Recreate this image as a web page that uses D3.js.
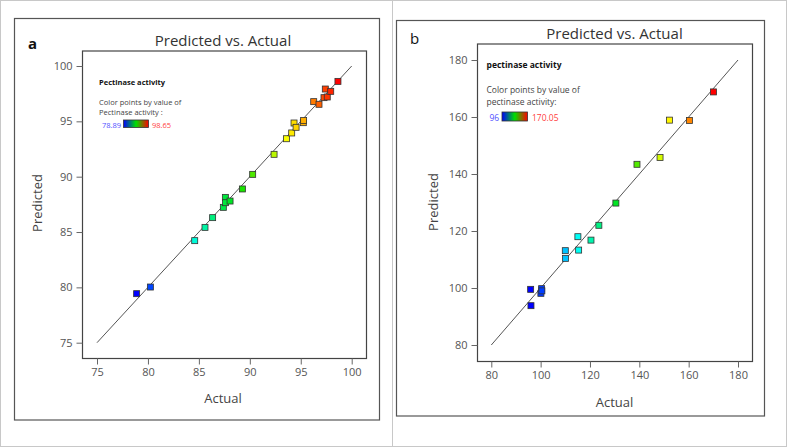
<!DOCTYPE html>
<html><head><meta charset="utf-8">
<script src="https://cdn.jsdelivr.net/npm/d3@7"></script>
<style>body{margin:0;background:#fff}svg{display:block}text{font-family:"Open Sans","Noto Sans",sans-serif}</style>
</head><body><svg id="c" width="787" height="447"></svg>
<script>
// Panel a data
const actualA = [78.89, 80.24, 84.59, 85.60, 86.35, 87.40, 87.60, 87.62, 88.06, 89.27, 90.28, 92.38, 93.59, 94.11, 94.34, 94.54, 95.25, 95.28, 96.27, 96.79, 97.28, 97.41, 97.60, 97.94, 98.65];
const predictedA = [79.43, 80.03, 84.22, 85.42, 86.30, 87.23, 88.13, 87.65, 87.80, 88.89, 90.21, 92.02, 93.43, 93.95, 94.85, 94.46, 94.88, 95.08, 96.78, 96.54, 97.14, 97.92, 97.20, 97.71, 98.61];
const ticksA = [75, 80, 85, 90, 95, 100];
// Panel b data
const actualB = [95.95, 96.08, 100.4, 100.1, 100.5, 110.0, 110.1, 115.1, 115.4, 120.4, 123.6, 130.5, 139.05, 148.4, 152.2, 160.3, 170.05];
const predictedB = [99.53, 93.80, 99.77, 98.13, 99.0, 113.1, 110.4, 118.0, 113.3, 116.8, 122.0, 129.8, 143.4, 145.8, 158.9, 158.8, 168.8];
const ticksB = [80, 100, 120, 140, 160, 180];

const svg = d3.select("#c");
// outer light border and separator
svg.append("rect").attr("x",0.5).attr("y",0.5).attr("width",786).attr("height",446).attr("fill","none").attr("stroke","#c8c8c8");
svg.append("line").attr("x1",392.5).attr("x2",392.5).attr("y1",0).attr("y2",447).attr("stroke","#c8c8c8");

const jet = d3.scaleLinear().domain([0,0.25,0.5,0.75,1]).range(["#0000ff","#00ffff","#00e000","#ffff00","#ff0000"]).clamp(true);

function panel(o){
  const g = svg.append("g");
  g.append("rect").attr("x",o.frame[0]).attr("y",o.frame[1]).attr("width",o.frame[2]).attr("height",o.frame[3]).attr("fill","none").attr("stroke","#555").attr("stroke-width",1.2);
  g.append("rect").attr("x",o.box[0]).attr("y",o.box[1]).attr("width",o.box[2]-o.box[0]).attr("height",o.box[3]-o.box[1]).attr("fill","#fff").attr("stroke","#444").attr("stroke-width",1.2);
  const x = d3.scaleLinear().domain([o.ticks[0],o.ticks[o.ticks.length-1]]).range(o.xr);
  const y = d3.scaleLinear().domain([o.ticks[0],o.ticks[o.ticks.length-1]]).range(o.yr);
  const xa = g.append("g").attr("transform",`translate(0,${o.box[3]})`).call(d3.axisBottom(x).tickValues(o.ticks).tickSize(6).tickPadding(4));
  const ya = g.append("g").attr("transform",`translate(${o.box[0]},0)`).call(d3.axisLeft(y).tickValues(o.ticks).tickSize(6).tickPadding(4));
  [xa,ya].forEach(a=>{a.select(".domain").remove();a.selectAll("line").attr("stroke","#666");a.selectAll("text").attr("fill","#555").attr("font-size",11);});
  // 1:1 line
  g.append("line").attr("x1",x(o.ticks[0])).attr("y1",y(o.ticks[0])).attr("x2",x(o.ticks[o.ticks.length-1])).attr("y2",y(o.ticks[o.ticks.length-1])).attr("stroke","#555").attr("stroke-width",1);
  const c = d3.scaleLinear().domain([o.min,o.max]).range([0,1]);
  const s = 6;
  g.selectAll("rect.pt").data(o.actual.map((a,i)=>[a,o.pred[i]])).enter().append("rect").attr("class","pt")
    .attr("x",d=>x(d[0])-s/2).attr("y",d=>y(d[1])-s/2).attr("width",s).attr("height",s)
    .attr("fill",d=>jet(c(d[0]))).attr("stroke","#333").attr("stroke-width",0.8);
  // titles
  g.append("text").attr("x",o.title[0]).attr("y",o.title[1]).attr("text-anchor","middle").attr("font-size",15).attr("fill","#333").text("Predicted vs. Actual");
  g.append("text").attr("x",o.letter[0]).attr("y",o.letter[1]).attr("font-size",15).attr("font-weight",o.letterBold?"bold":"normal").attr("fill","#111").text(o.letterText);
  g.append("text").attr("transform",`translate(${o.ylab[0]},${o.ylab[1]}) rotate(-90)`).attr("text-anchor","middle").attr("font-size",13).attr("fill","#444").text("Predicted");
  g.append("text").attr("x",o.xlab[0]).attr("y",o.xlab[1]).attr("text-anchor","middle").attr("font-size",13).attr("fill","#444").text("Actual");
  // legend
  const L = o.leg;
  g.append("text").attr("x",L.x).attr("y",L.y1).attr("font-size",L.bfs).attr("font-weight","bold").attr("fill","#111").text(L.t1);
  g.append("text").attr("x",L.x).attr("y",L.y2).attr("font-size",L.fs).attr("fill","#444").text("Color points by value of");
  g.append("text").attr("x",L.x).attr("y",L.y3).attr("font-size",L.fs).attr("fill","#444").text(L.t3);
  g.append("text").attr("x",L.lx).attr("y",L.y4).attr("font-size",L.fs).attr("fill","#5050ff").text(L.lo);
  const gid = "grad"+o.letterText;
  const gr = svg.append("defs").append("linearGradient").attr("id",gid);
  [["0%","#0000ff"],["50%","#00e000"],["100%","#ff0000"]].forEach(st=>gr.append("stop").attr("offset",st[0]).attr("stop-color",st[1]));
  g.append("rect").attr("x",L.bx).attr("y",L.by).attr("width",L.bw).attr("height",L.bh).attr("fill",`url(#${gid})`).attr("stroke","#333").attr("stroke-width",0.8);
  g.append("text").attr("x",L.hx).attr("y",L.y4).attr("font-size",L.fs).attr("fill","#ff4040").text(L.hi);
}

panel({frame:[14.5,18.5,365,401.5], box:[82.5,51,366.5,358.5], ticks:ticksA, xr:[97,351.7], yr:[342.7,66],
  actual:actualA, pred:predictedA, min:78.89, max:98.65,
  title:[223,46], letter:[28,49], letterText:"a", letterBold:true, ylab:[42,203], xlab:[223,403],
  leg:{x:99,y1:85,y2:105,y3:115,y4:128,t1:"Pectinase activity",t3:"Pectinase activity :",lo:"78.89",hi:"98.65",lx:102,hx:152,bx:123.5,by:120,bw:25,bh:7.5,fs:7.5,bfs:7.5}});

panel({frame:[396.5,20.5,368,395.5], box:[477.5,44,752.5,361.5], ticks:ticksB, xr:[491.3,738], yr:[345,60],
  actual:actualB, pred:predictedB, min:96, max:170.05,
  title:[614.5,39], letter:[410,44], letterText:"b", letterBold:false, ylab:[438,202], xlab:[614.5,407],
  leg:{x:486.5,y1:68,y2:93,y3:105,y4:121,t1:"pectinase activity",t3:"pectinase activity:",lo:"96",hi:"170.05",lx:489.5,hx:532,bx:502,by:112,bw:25.5,bh:9,fs:8.5,bfs:8.5}});
</script></body></html>
